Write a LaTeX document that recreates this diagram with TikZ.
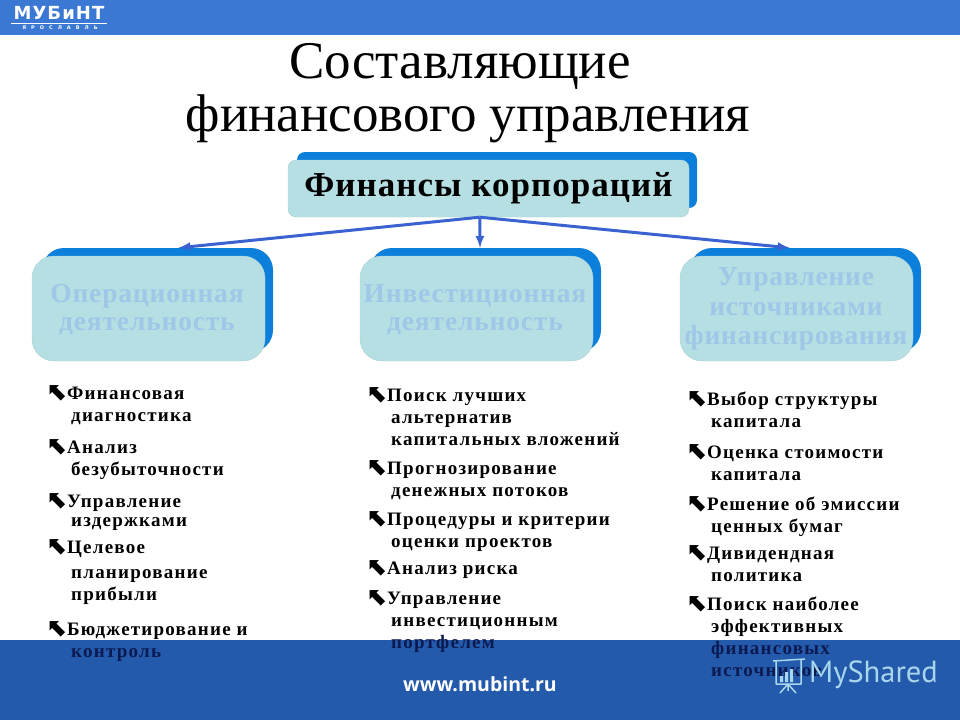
\documentclass[tikz,border=0pt]{standalone}
\usepackage{fontspec}
\setmainfont{Liberation Serif}
\newfontfamily\itemfont[LetterSpace=6.5]{Liberation Serif}
\newfontfamily\headfont[LetterSpace=3]{Liberation Serif}
\newfontfamily\arrowfont{DejaVu Sans}
\newfontfamily\logofont[LetterSpace=6]{DejaVu Sans}
\newfontfamily\cityfont[LetterSpace=100]{DejaVu Sans}
\newfontfamily\siteface{Open Sans}
\newfontfamily\markface{PT Sans}
\usetikzlibrary{positioning}
\definecolor{barblue}{HTML}{3A78D4}
\definecolor{footblue}{HTML}{245AAB}
\definecolor{backblue}{HTML}{0B7FDA}
\definecolor{paleteal}{HTML}{B5DFE3}
\definecolor{headblue}{HTML}{9FC8E8}
\definecolor{arrowblue}{HTML}{3A62D0}
\definecolor{navyink}{HTML}{0C1A52}
\definecolor{markblue}{HTML}{A8D6EC}
\newcommand{\bul}{\hspace*{-4pt}\rule{0pt}{14pt}\llap{\raisebox{-1pt}{\arrowfont\fontsize{25}{25}\selectfont\bfseries ⬉}\hspace{-1pt}}}
\begin{document}
\begin{tikzpicture}
                    [x=1pt,y=-1pt,>=latex,
                    back/.style={fill=backblue,rounded corners=#1,inner sep=0pt},
                    front/.style={fill=paleteal,draw=paleteal!85!gray,rounded corners=#1,inner sep=0pt,align=center},
                    head/.style={text=headblue,align=center,font=\headfont\fontsize{27.5}{#1}\selectfont\bfseries},
                    ttl/.style={inner sep=0pt,font=\fontsize{53}{55}\selectfont},
                    item/.style={anchor=north west,inner sep=0pt,align=left,font=\itemfont\fontsize{19}{22}\selectfont\bfseries},
                    link/.style={->,arrowblue,line width=3pt}]

                \useasboundingbox (0,0) rectangle (960,720);

                \fill[footblue] (0,640) rectangle (960,720);
                \fill[barblue] (0,0) rectangle (960,35);

                \node[inner sep=0pt,text=white,font=\logofont\fontsize{18}{20}\selectfont\bfseries] (logo) at (59,13) {МУБиНТ};
                \draw[white,line width=.8pt] (11,23) -- (107,23);
                \node[inner sep=0pt,text=white,font=\cityfont\fontsize{5}{6}\selectfont\bfseries] (city) at (60,28) {ЯРОСЛАВЛЬ};

                \node[ttl] (titleone) at (460,66) {Составляющие};
                \node[ttl] (titletwo) at (468,119) {финансового управления};

                \node[back=8pt,minimum width=400pt,minimum height=56pt] (finback) at (497,180) {};
                \node[front=8pt,minimum width=401pt,minimum height=57pt,font=\headfont\fontsize{35}{38}\selectfont\bfseries] (fin) at (488.5,188.5) {Финансы корпораций};

                \node[back=22pt,minimum width=231pt,minimum height=104pt] (opback) at (157.5,300) {};
                \node[back=22pt,minimum width=231pt,minimum height=104pt] (invback) at (485.5,300) {};
                \node[back=22pt,minimum width=231pt,minimum height=104pt] (srcback) at (805.5,300) {};

                \node[front=22pt,minimum width=233pt,minimum height=105pt] (op) at (148.5,308.5) {};
                \node[front=22pt,minimum width=233pt,minimum height=105pt] (inv) at (476.5,308.5) {};
                \node[front=22pt,minimum width=233pt,minimum height=105pt] (src) at (796.5,308.5) {};

                \node[head=28pt] (ophead) at (147,310) {Операционная\\деятельность};
                \node[head=28pt] (invhead) at (475,310) {Инвестиционная\\деятельность};
                \node[head=29.5pt] (srchead) at (796,309) {Управление\\источниками\\финансирования};

                \draw[link] (fin.253) -- (opback.68);
                \draw[link] (fin.253) -- (invback.96);
                \draw[link] (fin.253) -- (srcback.107);

                \node[item] (opa) at (71,385) {\bul Финансовая\\диагностика};
                \node[item] (opb) at (71,439) {\bul Анализ\\безубыточности};
                \node[item] (opc) at (71,493) {\bul Управление\\[-3pt]издержками};
                \node[item] (opd) at (71,539) {\bul Целевое\\[3pt]планирование\\прибыли};
                \node[item] (ope) at (71,621) {\bul Бюджетирование и\\\textcolor{navyink}{контроль}};

                \node[item] (inva) at (391,387) {\bul Поиск лучших\\альтернатив\\капитальных вложений};
                \node[item] (invb) at (391,460) {\bul Прогнозирование\\денежных потоков};
                \node[item] (invc) at (391,511) {\bul Процедуры и критерии\\оценки проектов};
                \node[item] (invd) at (391,560) {\bul Анализ риска};
                \node[item] (inve) at (391,590) {\bul Управление\\инвестиционным\\\textcolor{navyink}{портфелем}};

                \node[item] (srca) at (711,391) {\bul Выбор структуры\\капитала};
                \node[item] (srcb) at (711,444) {\bul Оценка стоимости\\капитала};
                \node[item] (srcc) at (711,496) {\bul Решение об эмиссии\\ценных бумаг};
                \node[item] (srcd) at (711,545) {\bul Дивидендная\\политика};
                \node[item] (srce) at (711,596) {\bul Поиск наиболее\\эффективных\\\textcolor{navyink}{финансовых}\\\textcolor{navyink}{источников}};

                \node[inner sep=0pt,text=white,font=\siteface\fontsize{19.5}{22}\selectfont\bfseries] (site) at (480,684) {www.mubint.ru};

                \node[inner sep=0pt,text=markblue,font=\markface\fontsize{30.5}{34}\selectfont] (brand) at (873.5,675) {MyShared};
                \draw[markblue,line width=1.5pt,line join=round] (773,661) -- (805,659) (776,661) -- (776,684) -- (801,684) -- (801,660);
                \draw[markblue,line width=1.5pt] (788,684) -- (780,693) (788,684) -- (796,693) (788,684) -- (788,691);
                \fill[markblue] (780,676) rectangle (783,682) (785,672) rectangle (788,682) (790,669) rectangle (793,682);

                \end{tikzpicture}
\end{document}
